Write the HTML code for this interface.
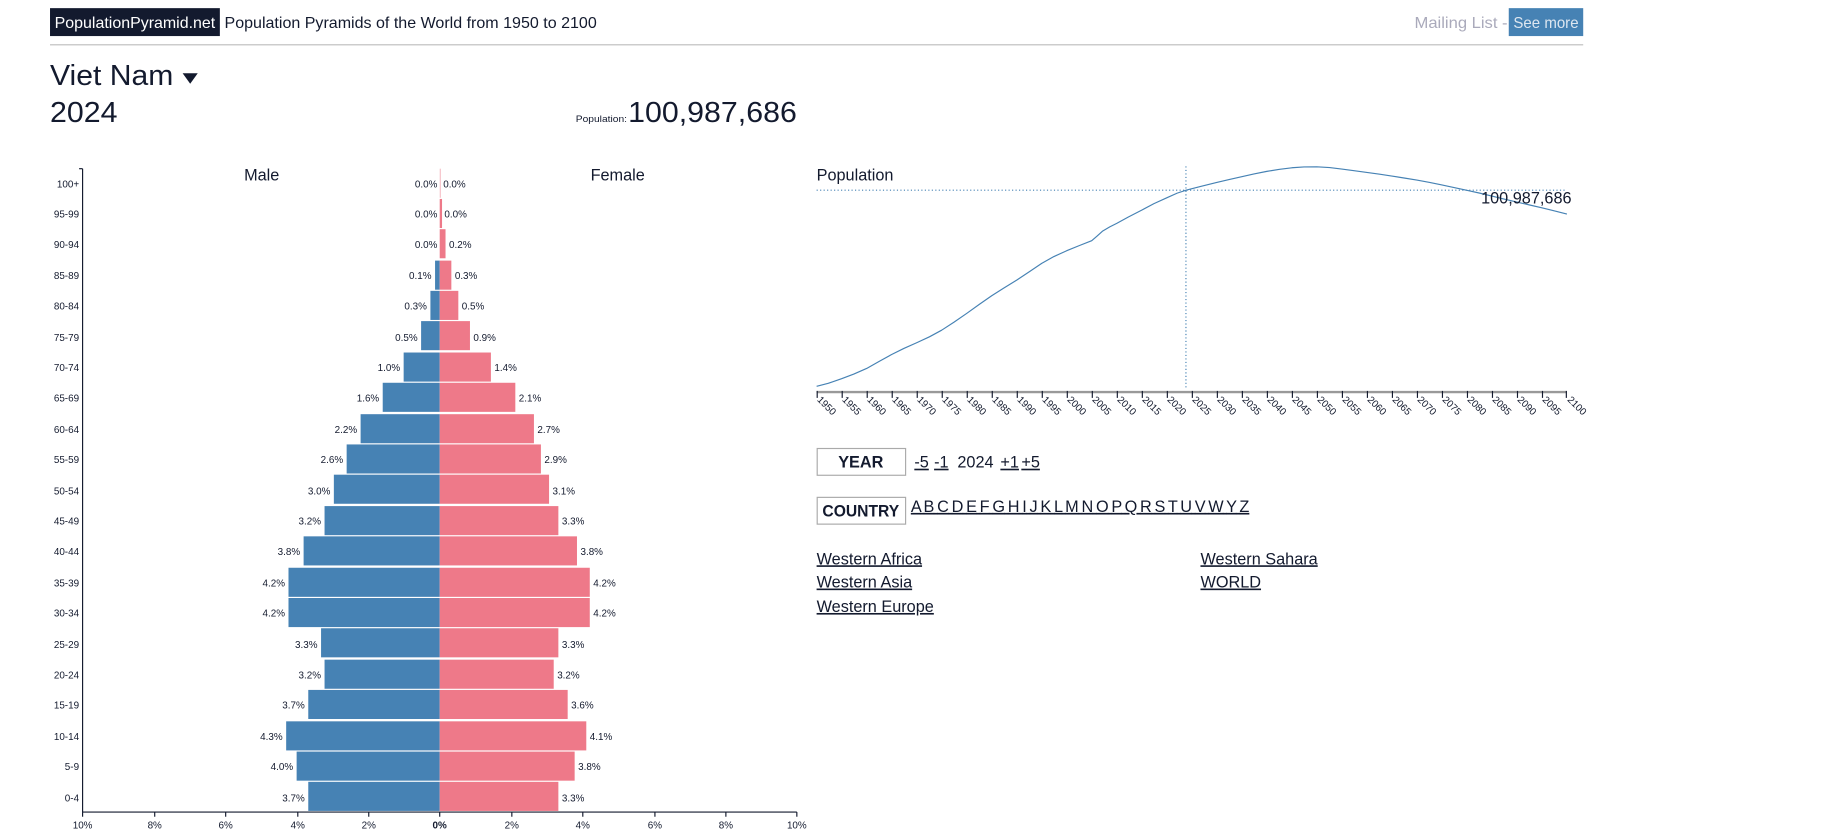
<!DOCTYPE html>
<html><head><meta charset="utf-8"><style>
html,body{margin:0;padding:0;background:#fff;width:1824px;height:840px;overflow:hidden}
svg{display:block}
text{font-family:"Liberation Sans",sans-serif;fill:#131a2e}
.s{font-size:8.5px}
.u{text-decoration:underline}
</style></head><body>
<svg width="1824" height="840" viewBox="0 0 1568 722" preserveAspectRatio="none" xmlns="http://www.w3.org/2000/svg">
<rect x="43" y="7" width="146" height="24" fill="#131a2e"/>
<text x="47" y="24" font-size="13.5" style="fill:#fff" textLength="138" lengthAdjust="spacingAndGlyphs">PopulationPyramid.net</text>
<text x="193" y="24" font-size="13.5" textLength="320" lengthAdjust="spacingAndGlyphs">Population Pyramids of the World from 1950 to 2100</text>
<text x="1216" y="24" font-size="13.5" style="fill:#aab" textLength="80" lengthAdjust="spacingAndGlyphs">Mailing List -</text>
<rect x="1297" y="7" width="64" height="24" fill="#4682b4"/>
<text x="1301" y="24" font-size="13.5" style="fill:#dde6f0" textLength="56" lengthAdjust="spacingAndGlyphs">See more</text>
<line x1="43" y1="38.5" x2="1361" y2="38.5" stroke="#bbb" stroke-width="1"/>
<text x="43" y="73" font-size="25" textLength="106" lengthAdjust="spacingAndGlyphs">Viet Nam</text>
<polygon points="157,63 170,63 163.5,72" fill="#131a2e"/>
<text x="43" y="105" font-size="25" textLength="58" lengthAdjust="spacingAndGlyphs">2024</text>
<text x="495" y="105" font-size="8" textLength="44" lengthAdjust="spacingAndGlyphs">Population:</text>
<text x="540" y="105" font-size="25" textLength="145" lengthAdjust="spacingAndGlyphs">100,987,686</text>

<text x="225" y="155" font-size="14" text-anchor="middle">Male</text>
<text x="531" y="155" font-size="14" text-anchor="middle">Female</text>
<line x1="71" y1="145" x2="71" y2="698" stroke="#131a2e"/>
<line x1="68" y1="145" x2="71" y2="145" stroke="#131a2e"/>
<line x1="71" y1="698" x2="685" y2="698" stroke="#131a2e"/>
<g fill="#4682b4">
<rect x="374" y="224" width="4" height="25"/>
<rect x="370" y="250" width="8" height="25"/>
<rect x="362" y="276" width="16" height="25"/>
<rect x="347" y="303" width="31" height="25"/>
<rect x="329" y="329" width="49" height="25"/>
<rect x="310" y="356" width="68" height="25"/>
<rect x="298" y="382" width="80" height="25"/>
<rect x="287" y="408" width="91" height="25"/>
<rect x="279" y="435" width="99" height="25"/>
<rect x="261" y="461" width="117" height="25"/>
<rect x="248" y="488" width="130" height="25"/>
<rect x="248" y="514" width="130" height="25"/>
<rect x="276" y="540" width="102" height="25"/>
<rect x="279" y="567" width="99" height="25"/>
<rect x="265" y="593" width="113" height="25"/>
<rect x="246" y="620" width="132" height="25"/>
<rect x="255" y="646" width="123" height="25"/>
<rect x="265" y="672" width="113" height="25"/>
</g>
<g fill="#ee7989">
<rect x="378" y="145" width="1" height="25" fill="#f6c0c8"/>
<rect x="378" y="171" width="2" height="25"/>
<rect x="378" y="197" width="5" height="25"/>
<rect x="378" y="224" width="10" height="25"/>
<rect x="378" y="250" width="16" height="25"/>
<rect x="378" y="276" width="26" height="25"/>
<rect x="378" y="303" width="44" height="25"/>
<rect x="378" y="329" width="65" height="25"/>
<rect x="378" y="356" width="81" height="25"/>
<rect x="378" y="382" width="87" height="25"/>
<rect x="378" y="408" width="94" height="25"/>
<rect x="378" y="435" width="102" height="25"/>
<rect x="378" y="461" width="118" height="25"/>
<rect x="378" y="488" width="129" height="25"/>
<rect x="378" y="514" width="129" height="25"/>
<rect x="378" y="540" width="102" height="25"/>
<rect x="378" y="567" width="98" height="25"/>
<rect x="378" y="593" width="110" height="25"/>
<rect x="378" y="620" width="126" height="25"/>
<rect x="378" y="646" width="116" height="25"/>
<rect x="378" y="672" width="102" height="25"/>
</g>
<g class="s" text-anchor="end">
<text x="68" y="161" class="s">100+</text><text x="68" y="187" class="s">95-99</text><text x="68" y="213" class="s">90-94</text><text x="68" y="240" class="s">85-89</text><text x="68" y="266" class="s">80-84</text><text x="68" y="293" class="s">75-79</text><text x="68" y="319" class="s">70-74</text><text x="68" y="345" class="s">65-69</text><text x="68" y="372" class="s">60-64</text><text x="68" y="398" class="s">55-59</text><text x="68" y="425" class="s">50-54</text><text x="68" y="451" class="s">45-49</text><text x="68" y="477" class="s">40-44</text><text x="68" y="504" class="s">35-39</text><text x="68" y="530" class="s">30-34</text><text x="68" y="557" class="s">25-29</text><text x="68" y="583" class="s">20-24</text><text x="68" y="609" class="s">15-19</text><text x="68" y="636" class="s">10-14</text><text x="68" y="662" class="s">5-9</text><text x="68" y="689" class="s">0-4</text>
<text x="376" y="161" class="s">0.0%</text><text x="376" y="187" class="s">0.0%</text><text x="376" y="213" class="s">0.0%</text><text x="371" y="240" class="s">0.1%</text><text x="367" y="266" class="s">0.3%</text><text x="359" y="293" class="s">0.5%</text><text x="344" y="319" class="s">1.0%</text><text x="326" y="345" class="s">1.6%</text><text x="307" y="372" class="s">2.2%</text><text x="295" y="398" class="s">2.6%</text><text x="284" y="425" class="s">3.0%</text><text x="276" y="451" class="s">3.2%</text><text x="258" y="477" class="s">3.8%</text><text x="245" y="504" class="s">4.2%</text><text x="245" y="530" class="s">4.2%</text><text x="273" y="557" class="s">3.3%</text><text x="276" y="583" class="s">3.2%</text><text x="262" y="609" class="s">3.7%</text><text x="243" y="636" class="s">4.3%</text><text x="252" y="662" class="s">4.0%</text><text x="262" y="689" class="s">3.7%</text>
</g>
<g class="s">
<text x="381" y="161" class="s">0.0%</text><text x="382" y="187" class="s">0.0%</text><text x="386" y="213" class="s">0.2%</text><text x="391" y="240" class="s">0.3%</text><text x="397" y="266" class="s">0.5%</text><text x="407" y="293" class="s">0.9%</text><text x="425" y="319" class="s">1.4%</text><text x="446" y="345" class="s">2.1%</text><text x="462" y="372" class="s">2.7%</text><text x="468" y="398" class="s">2.9%</text><text x="475" y="425" class="s">3.1%</text><text x="483" y="451" class="s">3.3%</text><text x="499" y="477" class="s">3.8%</text><text x="510" y="504" class="s">4.2%</text><text x="510" y="530" class="s">4.2%</text><text x="483" y="557" class="s">3.3%</text><text x="479" y="583" class="s">3.2%</text><text x="491" y="609" class="s">3.6%</text><text x="507" y="636" class="s">4.1%</text><text x="497" y="662" class="s">3.8%</text><text x="483" y="689" class="s">3.3%</text>
</g>
<g stroke="#131a2e">
<line x1="71" y1="698" x2="71" y2="702"/><line x1="133" y1="698" x2="133" y2="702"/><line x1="194" y1="698" x2="194" y2="702"/><line x1="256" y1="698" x2="256" y2="702"/><line x1="317" y1="698" x2="317" y2="702"/><line x1="378" y1="698" x2="378" y2="702"/><line x1="440" y1="698" x2="440" y2="702"/><line x1="501" y1="698" x2="501" y2="702"/><line x1="563" y1="698" x2="563" y2="702"/><line x1="624" y1="698" x2="624" y2="702"/><line x1="685" y1="698" x2="685" y2="702"/>
</g>
<g text-anchor="middle">
<text x="71" y="712" class="s">10%</text><text x="133" y="712" class="s">8%</text><text x="194" y="712" class="s">6%</text><text x="256" y="712" class="s">4%</text><text x="317" y="712" class="s">2%</text><text x="378" y="712" class="s" font-weight="bold">0%</text><text x="440" y="712" class="s">2%</text><text x="501" y="712" class="s">4%</text><text x="563" y="712" class="s">6%</text><text x="624" y="712" class="s">8%</text><text x="685" y="712" class="s">10%</text>
</g>

<text x="702" y="155" font-size="14">Population</text>
<line x1="702" y1="163.5" x2="1347" y2="163.5" stroke="#4682b4" stroke-dasharray="1,2"/>
<line x1="1019.5" y1="143" x2="1019.5" y2="334" stroke="#4682b4" stroke-dasharray="1,2"/>
<polyline fill="none" stroke="#4682b4" stroke-width="1" stroke-linejoin="round" points="702,332 712,329.5 723.5,325.5 734,321.5 745,316.7 756,310.5 766.5,304.7 777,299.5 788,294.6 799,289.5 809.5,283.8 820,277 831,269.4 842,261.5 852.5,254.2 863,247.5 874,240.8 885,233.5 895.5,226.4 906,220.5 917,215.5 928,211 938.5,206.9 943,203 948,198.5 954,195 960,192 970,186.5 981.5,180.6 992,175 1003,170 1012,166 1020,163.4 1033,160 1046,156.8 1057,154.2 1067.5,151.9 1078,149.5 1089,147.3 1100,145.5 1110.5,144.2 1121,143.5 1132,143.4 1143,144 1153.5,145.3 1164,146.7 1175,148.2 1186,149.7 1196.5,151.3 1207,153 1218,154.8 1229,156.8 1239.5,159 1250,161.2 1261,163.6 1272,166 1282.5,168.5 1293,171.1 1304,173.7 1315,176.2 1325.5,178.6 1336,181.2 1347,184"/>
<text x="1351" y="175" font-size="14" text-anchor="end">100,987,686</text>
<line x1="702" y1="337" x2="1347" y2="337" stroke="#999" stroke-width="2"/>
<g stroke="#131a2e">
<line x1="702.5" y1="336" x2="702.5" y2="342"/><line x1="724" y1="336" x2="724" y2="342"/><line x1="745.5" y1="336" x2="745.5" y2="342"/><line x1="767" y1="336" x2="767" y2="342"/><line x1="788.5" y1="336" x2="788.5" y2="342"/><line x1="810" y1="336" x2="810" y2="342"/><line x1="831.5" y1="336" x2="831.5" y2="342"/><line x1="853" y1="336" x2="853" y2="342"/><line x1="874.5" y1="336" x2="874.5" y2="342"/><line x1="896" y1="336" x2="896" y2="342"/><line x1="917.5" y1="336" x2="917.5" y2="342"/><line x1="939" y1="336" x2="939" y2="342"/><line x1="960.5" y1="336" x2="960.5" y2="342"/><line x1="982" y1="336" x2="982" y2="342"/><line x1="1003.5" y1="336" x2="1003.5" y2="342"/><line x1="1025" y1="336" x2="1025" y2="342"/><line x1="1046.5" y1="336" x2="1046.5" y2="342"/><line x1="1068" y1="336" x2="1068" y2="342"/><line x1="1089.5" y1="336" x2="1089.5" y2="342"/><line x1="1111" y1="336" x2="1111" y2="342"/><line x1="1132.5" y1="336" x2="1132.5" y2="342"/><line x1="1154" y1="336" x2="1154" y2="342"/><line x1="1175.5" y1="336" x2="1175.5" y2="342"/><line x1="1197" y1="336" x2="1197" y2="342"/><line x1="1218.5" y1="336" x2="1218.5" y2="342"/><line x1="1240" y1="336" x2="1240" y2="342"/><line x1="1261.5" y1="336" x2="1261.5" y2="342"/><line x1="1283" y1="336" x2="1283" y2="342"/><line x1="1304.5" y1="336" x2="1304.5" y2="342"/><line x1="1326" y1="336" x2="1326" y2="342"/><line x1="1346.5" y1="336" x2="1346.5" y2="342"/>
</g>
<g>
<text class="s" transform="translate(702,344) rotate(45)">1950</text><text class="s" transform="translate(723.5,344) rotate(45)">1955</text><text class="s" transform="translate(745,344) rotate(45)">1960</text><text class="s" transform="translate(766.5,344) rotate(45)">1965</text><text class="s" transform="translate(788,344) rotate(45)">1970</text><text class="s" transform="translate(809.5,344) rotate(45)">1975</text><text class="s" transform="translate(831,344) rotate(45)">1980</text><text class="s" transform="translate(852.5,344) rotate(45)">1985</text><text class="s" transform="translate(874,344) rotate(45)">1990</text><text class="s" transform="translate(895.5,344) rotate(45)">1995</text><text class="s" transform="translate(917,344) rotate(45)">2000</text><text class="s" transform="translate(938.5,344) rotate(45)">2005</text><text class="s" transform="translate(960,344) rotate(45)">2010</text><text class="s" transform="translate(981.5,344) rotate(45)">2015</text><text class="s" transform="translate(1003,344) rotate(45)">2020</text><text class="s" transform="translate(1024.5,344) rotate(45)">2025</text><text class="s" transform="translate(1046,344) rotate(45)">2030</text><text class="s" transform="translate(1067.5,344) rotate(45)">2035</text><text class="s" transform="translate(1089,344) rotate(45)">2040</text><text class="s" transform="translate(1110.5,344) rotate(45)">2045</text><text class="s" transform="translate(1132,344) rotate(45)">2050</text><text class="s" transform="translate(1153.5,344) rotate(45)">2055</text><text class="s" transform="translate(1175,344) rotate(45)">2060</text><text class="s" transform="translate(1196.5,344) rotate(45)">2065</text><text class="s" transform="translate(1218,344) rotate(45)">2070</text><text class="s" transform="translate(1239.5,344) rotate(45)">2075</text><text class="s" transform="translate(1261,344) rotate(45)">2080</text><text class="s" transform="translate(1282.5,344) rotate(45)">2085</text><text class="s" transform="translate(1304,344) rotate(45)">2090</text><text class="s" transform="translate(1325.5,344) rotate(45)">2095</text><text class="s" transform="translate(1347,344) rotate(45)">2100</text>
</g>

<rect x="702.5" y="385.5" width="76" height="23" fill="#fff" stroke="#aaa"/>
<text x="740" y="402" font-size="14" font-weight="bold" text-anchor="middle">YEAR</text>
<text x="786" y="402" font-size="14" class="u">-5</text>
<text x="803" y="402" font-size="14" class="u">-1</text>
<text x="823" y="402" font-size="14">2024</text>
<text x="860" y="402" font-size="14" class="u">+1</text>
<text x="878" y="402" font-size="14" class="u">+5</text>
<rect x="702.5" y="427.5" width="76" height="23" fill="#fff" stroke="#aaa"/>
<text x="740" y="444" font-size="14" font-weight="bold" text-anchor="middle" textLength="66" lengthAdjust="spacingAndGlyphs">COUNTRY</text>
<text x="783" y="440" font-size="14" class="u" textLength="291" lengthAdjust="spacing">A B C D E F G H I J K L M N O P Q R S T U V W Y Z</text>
<text x="702" y="485" font-size="14" class="u">Western Africa</text>
<text x="702" y="505" font-size="14" class="u">Western Asia</text>
<text x="702" y="526" font-size="14" class="u">Western Europe</text>
<text x="1032" y="485" font-size="14" class="u">Western Sahara</text>
<text x="1032" y="505" font-size="14" class="u">WORLD</text>
</svg>
</body></html>
